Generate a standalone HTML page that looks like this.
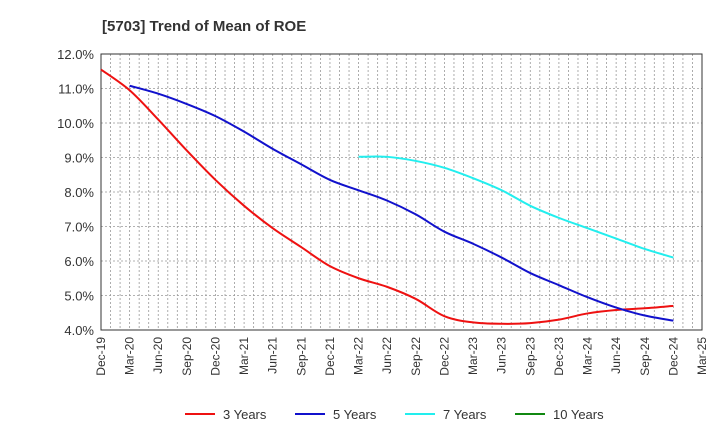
<!DOCTYPE html>
<html><head><meta charset="utf-8"><style>
body{margin:0;background:#fff;font-family:"Liberation Sans",Arial,sans-serif}
svg text{font-family:"Liberation Sans",Arial,sans-serif;fill:#333}
</style></head><body>
<svg id="c" width="720" height="440" xmlns="http://www.w3.org/2000/svg">
<text x="102" y="31" font-size="15" font-weight="bold">[5703]  Trend of Mean of ROE</text>
<g id="grid"></g><g id="axes"></g><g id="series"></g><g id="legend"></g>
</svg>
<script>
const categories=["Dec-19","Mar-20","Jun-20","Sep-20","Dec-20","Mar-21","Jun-21","Sep-21","Dec-21","Mar-22","Jun-22","Sep-22","Dec-22","Mar-23","Jun-23","Sep-23","Dec-23","Mar-24","Jun-24","Sep-24","Dec-24","Mar-25"];
const yTicks=[4,5,6,7,8,9,10,11,12];
const s3=[11.55,10.95,10.1,9.2,8.35,7.6,6.95,6.4,5.85,5.5,5.25,4.9,4.4,4.22,4.18,4.2,4.3,4.48,4.58,4.63,4.7];
const s5=[null,11.08,10.85,10.55,10.2,9.75,9.25,8.8,8.35,8.05,7.75,7.35,6.85,6.5,6.1,5.65,5.3,4.95,4.65,4.42,4.27];
const s7=[null,null,null,null,null,null,null,null,null,9.02,9.02,8.9,8.7,8.4,8.05,7.6,7.25,6.95,6.65,6.35,6.1];
const s10=[];
const L=101,R=702,T=54,B=330;
const X=i=>L+i*(R-L)/(categories.length-1);
const Y=v=>B-(v-4)*(B-T)/8;
const NS="http://www.w3.org/2000/svg";
function mk(t,p,a){const e=document.createElementNS(NS,t);for(const k in a)e.setAttribute(k,a[k]);p.appendChild(e);return e;}
const g=document.getElementById('grid'),ax=document.getElementById('axes'),se=document.getElementById('series'),lg=document.getElementById('legend');
const nm=(categories.length-1)*3;
for(let m=1;m<nm;m++){const x=L+m*(R-L)/nm;const e=mk('line',g,{x1:x,x2:x,y1:T,y2:B,stroke:'#999','stroke-width':0.8,'stroke-dasharray':'2,2'});

}
yTicks.forEach(v=>{const e=mk('line',g,{x1:L,x2:R,y1:Y(v),y2:Y(v),stroke:'#999','stroke-width':0.8,'stroke-dasharray':'2,2'});


const t=mk('text',ax,{x:L-7,y:Y(v)+5,'font-size':13,'text-anchor':'end'});t.textContent=v.toFixed(1)+'%';

});
const fr=mk('rect',ax,{x:L,y:T,width:R-L,height:B-T,fill:'none',stroke:'#333','stroke-width':1});


categories.forEach((c,i)=>{const t=mk('text',ax,{transform:`translate(${X(i)+4},${B+7}) rotate(-90)`,'font-size':12,'text-anchor':'end'});t.textContent=c;

});
function path(arr){const p=[];arr.forEach((v,i)=>{if(v!=null)p.push([X(i),Y(v)]);});if(p.length<2)return '';
let d=`M${p[0][0]},${p[0][1]}`;for(let i=0;i<p.length-1;i++){const p0=p[i-1]||p[i],p1=p[i],p2=p[i+1],p3=p[i+2]||p2;
d+=` C${p1[0]+(p2[0]-p0[0])/6},${p1[1]+(p2[1]-p0[1])/6} ${p2[0]-(p3[0]-p1[0])/6},${p2[1]-(p3[1]-p1[1])/6} ${p2[0]},${p2[1]}`;}return d;}
const series=[[s3,'#ee1111','3 Years','series-3-years'],[s5,'#1111cc','5 Years','series-5-years'],[s7,'#22eeee','7 Years','series-7-years'],[s10,'#118811','10 Years','series-10-years']];
series.forEach((s,k)=>{const d=path(s[0]);if(d){const e=mk('path',se,{d:d,fill:'none',stroke:s[1],'stroke-width':2});

}
const lx=185+k*110;const ln=mk('line',lg,{x1:lx,x2:lx+30,y1:414,y2:414,stroke:s[1],'stroke-width':2});


const t=mk('text',lg,{x:lx+38,y:419,'font-size':13});t.textContent=s[2];

});
</script>
</body></html>
